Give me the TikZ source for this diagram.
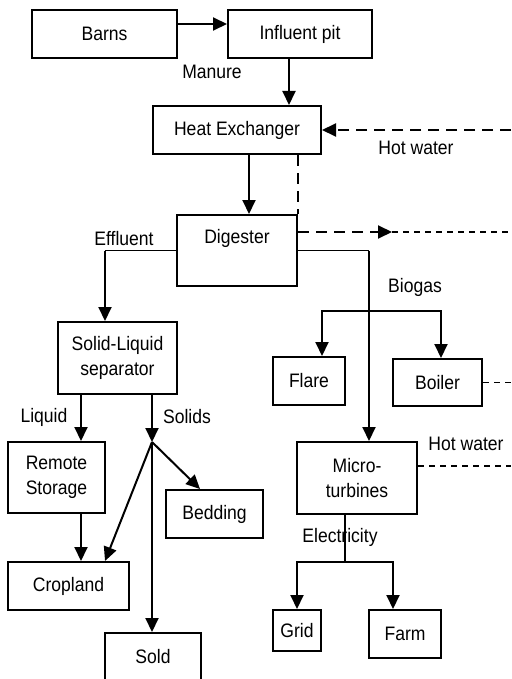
\documentclass[tikz,border=0pt]{standalone}
\usepackage{fontspec}
\setmainfont{Liberation Sans}[FakeStretch=0.9]
\usetikzlibrary{arrows.meta,positioning,calc}

\begin{document}
\begin{tikzpicture}[x=1pt,y=-1pt,>={Triangle[length=14pt,width=13pt]},line width=2pt,every node/.style={align=center,font=\fontsize{19.5}{25}\selectfont},box/.style={draw,inner sep=2pt},hotline/.style={dash pattern=on 11pt off 7pt,line width=2pt},thinhot/.style={dash pattern=on 6pt off 5pt,line width=1.4pt},feed/.style={line width=1.3pt}]
\useasboundingbox (0,0) rectangle (511,679);
\node[box,minimum width=145,minimum height=48] (barns) at (104.5,34) {Barns};
\node[box,minimum width=144,minimum height=48] (pit) at (300,34) {Influent pit};
\node[box,minimum width=168,minimum height=48] (hx) at (237,130) {Heat Exchanger};
\node[box,minimum width=120,minimum height=71] (dig) at (237,250.5) {Digester\\\phantom{g}};
\node[box,minimum width=119,minimum height=72] (sep) at (117.5,358) {Solid-Liquid\\separator};
\node[box,minimum width=72,minimum height=48] (flare) at (309,381) {Flare};
\node[box,minimum width=89,minimum height=47] (boiler) at (437.5,382.5) {Boiler};
\node[box,minimum width=97,minimum height=71] (store) at (56.5,477.5) {Remote\\Storage};
\node[box,minimum width=120,minimum height=72] (micro) at (357,478) {Micro-\\turbines};
\node[box,minimum width=97,minimum height=48] (bed) at (214.5,514) {Bedding};
\node[box,minimum width=121,minimum height=48] (crop) at (68.5,586) {Cropland};
\node[box,minimum width=96,minimum height=47] (sold) at (153,656.5) {Sold};
\node[box,minimum width=48,minimum height=41] (grid) at (297,630.5) {Grid};
\node[box,minimum width=72,minimum height=48] (farm) at (405,634) {Farm};
% flow labels
\node (manure) at (212,72) {Manure};
\node (hotin) at (416,148) {Hot water};
\node (effl) at (124,239) {Effluent};
\node (biogas) at (415,287) {Biogas};
\node (liquid) at (44,417) {Liquid};
\node (solids) at (187,417) {Solids};
\node (hotmt) at (466,444) {Hot water};
\node (elec) at (340,537) {Electricity};
\coordinate (hwin) at (511,130);\coordinate (hwmid) at (392,232);\coordinate (hwout) at (511,232);
\coordinate (efcorner) at (105,250.5);\coordinate (gascorner) at (369,250.5);
\coordinate (gasfork) at (369,311);\coordinate (hub) at (152,442);\coordinate (elfork) at (345,562);
\draw[->] ([yshift=10pt]barns.east)--([yshift=10pt]pit.west);
\draw[->] ([xshift=-11pt]pit.south)--([xshift=-11pt]pit.south |- hx.north);
\draw[hotline,->] (hwin)--(hx.east);\draw[hotline] (dig.north east |- hx.south)--(dig.north east);
\draw[->] ([xshift=12pt]hx.south)--([xshift=12pt]hx.south |- dig.north);
\draw[hotline,->] ([yshift=18.5pt]dig.east)--(hwmid);\draw[thinhot] (hwmid)--(hwout);
\draw[feed] (dig.west)--(efcorner);\draw[->] (efcorner)--(efcorner |- sep.north);
\draw[feed] (dig.east)--(gascorner);\draw[->] (gascorner)--(gascorner |- micro.north);
\draw[->] (gasfork) -| ([xshift=13pt]flare.north);\draw[->] (gasfork) -| ([xshift=3.5pt]boiler.north);
\draw[thinhot] (boiler.east)--(boiler.east -| hwin);
\draw[thinhot] ([yshift=12pt]micro.east)--([yshift=12pt]micro.east -| hwin);
\draw[->] ([xshift=-36.5pt]sep.south)--([xshift=-36.5pt]sep.south |- store.north);
\draw[->] ([xshift=34.5pt]sep.south)--(hub);
\draw[->] (hub)--([xshift=-14.5pt]bed.north);\draw[->] (hub)--([xshift=36.5pt]crop.north);
\draw[->] (hub)--(hub |- sold.north);
\draw[->] ([xshift=24.5pt]store.south)--([xshift=24.5pt]store.south |- crop.north);
\draw ([xshift=-12pt]micro.south)--(elfork);
\draw[->] (elfork) -| (grid.north);\draw[->] (elfork) -| ([xshift=-12pt]farm.north);
\end{tikzpicture}
\end{document}
